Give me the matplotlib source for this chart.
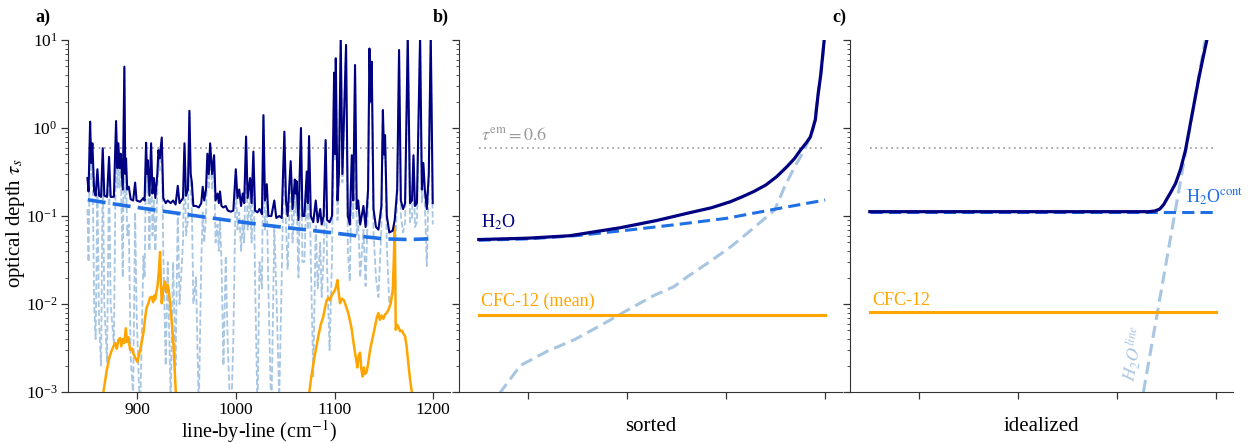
import numpy as np
import matplotlib
matplotlib.use("Agg")
import matplotlib.pyplot as plt

plt.rcParams["font.family"] = ["Liberation Serif", "DejaVu Serif"]
plt.rcParams["mathtext.fontset"] = "stix"

NAVY = "#000080"
CONT_BLUE = "#1f6fe5"
LIGHT_BLUE = "#a8c6e2"
ORANGE = "#ffa500"
GRAY = "#999999"

TAU_EM = 0.6

# ---- panel a: line-by-line spectrum ----
WN_A = [
    849.7, 850.8, 852.4, 853.5, 854.7, 856.5, 858, 859.8, 861.5, 863.5,
    865.2, 866.8, 869.5, 871.6, 873.2, 876.5, 878.7, 880, 881, 882.2,
    883.4, 885.5, 887.1, 888, 888.8, 890, 891.6, 893.5, 896, 898,
    899.5, 903, 906.4, 907.6, 909.1, 910, 910.8, 912.5, 914.2, 915.6,
    917, 918.5, 920.5, 921.6, 922.8, 925, 926.5, 929, 931, 934,
    936.5, 939, 941.2, 943, 946.5, 948, 949.5, 951.5, 953, 954.3,
    955.4, 957, 959.7, 962.5, 965, 966.5, 968, 969.8, 971.2, 972.6,
    974, 976, 978, 979.5, 981.5, 982.8, 984, 985.5, 987.5, 989.8,
    992, 995, 997.5, 1000, 1001.7, 1003.5, 1005.3, 1007, 1008.5, 1010.4,
    1012, 1014.5, 1016, 1017.8, 1019.5, 1022, 1024, 1026.5, 1028, 1029.5,
    1031.4, 1033, 1036, 1039, 1041, 1044, 1046.5, 1049.2, 1050.8, 1052.5,
    1055.6, 1057.5, 1059.8, 1060.7, 1061.5, 1063.5, 1066, 1067.5, 1069.5, 1071.9,
    1073, 1074.2, 1076, 1078.5, 1081, 1083, 1085.5, 1087, 1089, 1091,
    1092.5, 1095, 1097.5, 1099.6, 1100.5, 1101.3, 1103, 1104.5, 1106.3, 1108,
    1111.7, 1113.5, 1115.5, 1117.5, 1119, 1120.8, 1122.5, 1124, 1126, 1129.3,
    1131.5, 1134, 1135.4, 1136.5, 1137.7, 1139.5, 1142, 1144.5, 1147.5, 1149,
    1150.2, 1151.2, 1153, 1155.5, 1158.9, 1161, 1163.5, 1165.4, 1167.2, 1169.5,
    1171.5, 1174.2, 1176.5, 1178.5, 1180, 1181.5, 1183.5, 1186.7, 1188.5, 1190,
    1191.5, 1193.5, 1195.5, 1197.5, 1199.5,
]
TAU_TOTAL_A = [
    0.27, 0.19, 1.18, 0.40, 0.67, 0.19, 0.17, 0.34, 0.17, 0.165,
    0.59, 0.17, 0.165, 0.47, 0.165, 0.165, 1.2, 0.35, 0.67, 0.35,
    0.51, 0.2, 4.98, 0.3, 0.45, 0.2, 0.215, 0.155, 0.15, 0.24,
    0.15, 0.145, 0.16, 0.15, 0.68, 0.3, 0.43, 0.17, 0.67, 0.18,
    0.27, 0.16, 0.3, 0.56, 0.45, 0.78, 0.16, 0.14, 0.15, 0.14,
    0.15, 0.135, 0.22, 0.14, 0.16, 0.67, 0.17, 0.2, 1.57, 0.3,
    0.245, 0.13, 0.13, 0.125, 0.14, 0.215, 0.15, 0.2, 0.51, 0.3,
    0.67, 0.3, 0.49, 0.15, 0.18, 0.14, 0.19, 0.13, 0.125, 0.13,
    0.115, 0.112, 0.115, 0.34, 0.16, 0.2, 0.13, 0.18, 0.14, 0.8,
    0.16, 0.27, 0.14, 0.54, 0.115, 0.11, 0.12, 0.105, 1.4, 0.15,
    0.23, 0.1, 0.1, 0.15, 0.095, 0.1, 0.095, 0.91, 0.15, 0.1,
    0.42, 0.12, 0.26, 0.18, 0.25, 0.09, 1.0, 0.1, 0.1, 0.32,
    0.14, 0.81, 0.1, 0.085, 0.15, 0.085, 0.12, 0.08, 0.1, 0.73,
    0.09, 0.085, 0.1, 4.25, 0.5, 6.2, 0.15, 0.3, 10.5, 0.3,
    8.8, 0.1, 0.08, 0.49, 0.15, 5.2, 0.12, 0.15, 0.08, 0.13,
    0.075, 0.2, 8.0, 2.0, 5.67, 0.12, 0.075, 0.07, 0.13, 1.6,
    0.5, 0.83, 0.1, 0.065, 0.068, 0.09, 0.2, 7.7, 0.15, 0.12,
    0.14, 11, 0.14, 0.15, 0.49, 0.13, 0.14, 11, 0.2, 0.4,
    0.2, 0.12, 0.3, 11, 0.14,
]
TAU_LINE_A = [
    0.12, 0.03, 1.03, 0.25, 0.52, 0.01, 0.004, 0.19, 0.006, 0.002,
    0.45, 0.01, 0.0022, 0.33, 0.01, 0.0035, 1.06, 0.21, 0.53, 0.21,
    0.37, 0.02, 4.84, 0.16, 0.31, 0.06, 0.08, 0.0025, 0.0009, 0.11,
    0.008, 0.0005, 0.035, 0.02, 0.56, 0.18, 0.31, 0.04, 0.55, 0.06,
    0.15, 0.04, 0.18, 0.44, 0.33, 0.67, 0.04, 0.002, 0.03, 0.0008,
    0.03, 0.002, 0.11, 0.01, 0.05, 0.56, 0.06, 0.09, 1.46, 0.19,
    0.14, 0.01, 0.02, 0.0006, 0.03, 0.11, 0.05, 0.1, 0.41, 0.2,
    0.57, 0.2, 0.39, 0.05, 0.08, 0.04, 0.09, 0.03, 0.002, 0.035,
    0.003, 0.0004, 0.004, 0.25, 0.07, 0.11, 0.04, 0.09, 0.05, 0.71,
    0.07, 0.18, 0.05, 0.46, 0.02, 0.0006, 0.03, 0.015, 1.32, 0.07,
    0.15, 0.015, 0.0005, 0.075, 0.015, 0.0008, 0.02, 0.84, 0.08, 0.025,
    0.35, 0.05, 0.19, 0.11, 0.18, 0.02, 0.93, 0.03, 0.03, 0.25,
    0.07, 0.74, 0.03, 0.0015, 0.08, 0.015, 0.05, 0.012, 0.035, 0.67,
    0.025, 0.003, 0.035, 4.2, 0.44, 6.1, 0.09, 0.24, 10.4, 0.24,
    8.7, 0.04, 0.018, 0.43, 0.09, 5.1, 0.06, 0.09, 0.02, 0.07,
    0.016, 0.14, 7.9, 1.9, 5.6, 0.065, 0.02, 0.012, 0.075, 1.55,
    0.45, 0.78, 0.045, 0.01, 0.013, 0.035, 0.15, 7.6, 0.1, 0.065,
    0.085, 11, 0.085, 0.095, 0.44, 0.075, 0.085, 11, 0.14, 0.34,
    0.14, 0.027, 0.24, 11, 0.08,
]
WN_CONT_A = [850, 875, 900, 925, 950, 975, 1000, 1025, 1050, 1075,
             1100, 1125, 1150, 1175, 1195]
TAU_CONT_A = [0.153, 0.138, 0.125, 0.114, 0.104, 0.095, 0.087, 0.080, 0.074,
              0.069, 0.064, 0.059, 0.055, 0.054, 0.055]

WN_CFC_A = [
    865.9, 869, 872, 874, 876, 878, 879.5, 881, 882.8, 884, 885.5, 887,
    888.6, 889.8, 891, 893, 895, 897, 900.3, 902.5, 904.5, 906.4, 908,
    909.5, 911.5, 913, 914.9, 916.2, 917.5, 918.3, 919.5, 920.6, 921.8,
    923.3, 924.2, 925, 926.5, 928.4, 929.8, 931, 931.8, 933, 934, 935.5,
    936.8, 938, 939.2,
    np.nan,
    1074.5, 1076.5, 1078.6, 1081, 1083.6, 1086, 1088.7, 1090.5, 1092, 1094,
    1095.5, 1097.2, 1099, 1100.6, 1102, 1103, 1104.2, 1105.6, 1107.5,
    1109.6, 1112, 1114, 1116, 1117.5, 1119, 1120.8, 1122, 1123.2, 1124.5,
    1125.9, 1127.2, 1128.5, 1129.8, 1130.9, 1132.6, 1134.3, 1136, 1138.5,
    1141, 1142.8, 1144.4, 1146, 1147.8, 1149.5, 1151.2, 1152.9, 1155,
    1157, 1158.2, 1159, 1160, 1161, 1161.6, 1162, 1163.5, 1164.7, 1166.4,
    1168, 1169.8, 1171.5, 1173.2, 1174.8, 1176.5, 1178.3,
]
TAU_CFC_A = [
    0.001, 0.0017, 0.0025, 0.0029, 0.0033, 0.0036, 0.0031, 0.0039, 0.0041,
    0.0033, 0.0040, 0.0036, 0.0053, 0.0037, 0.0042, 0.0030, 0.0031, 0.0026,
    0.0022, 0.0028, 0.0036, 0.0047, 0.0068, 0.0090, 0.0102, 0.0118, 0.0121,
    0.0105, 0.0125, 0.0113, 0.0135, 0.0157, 0.022, 0.039, 0.016, 0.0102,
    0.015, 0.018, 0.0135, 0.0165, 0.0149, 0.0115, 0.0085, 0.0055, 0.0036,
    0.0019, 0.001,
    np.nan,
    0.001, 0.0015, 0.0021, 0.0030, 0.0043, 0.0058, 0.0072, 0.0092, 0.011,
    0.0118, 0.0110, 0.0126, 0.0135, 0.0145, 0.0165, 0.0187, 0.0135, 0.0102,
    0.0115, 0.011, 0.0092, 0.0078, 0.0062, 0.0051, 0.0038, 0.0028, 0.0023,
    0.0019, 0.0026, 0.0028, 0.0018, 0.0015, 0.0019, 0.0016, 0.0017, 0.0022,
    0.0030, 0.0041, 0.0055, 0.0070, 0.0079, 0.0066, 0.0074, 0.0068, 0.0076,
    0.0079, 0.0088, 0.0102, 0.0125, 0.0145, 0.030, 0.076, 0.020, 0.0051,
    0.0058, 0.0055, 0.0049, 0.0050, 0.0046, 0.0043, 0.0032, 0.0021, 0.0014,
    0.001,
]

# ---- panel b: sorted ----
WN_SORT_TOT = [850, 900, 942, 993, 1030, 1060, 1085, 1104, 1116, 1128, 1140,
               1151, 1161, 1169, 1175, 1181, 1185, 1190, 1193, 1195.5, 1197, 1199]
TAU_SORT_TOT = [0.054, 0.056, 0.0597, 0.0736, 0.089, 0.107, 0.124, 0.145,
                0.165, 0.19, 0.225, 0.28, 0.36, 0.45, 0.56, 0.68, 0.79, 1.23,
                2.5, 4.0, 5.9, 10.0]
WN_SORT_LINE = [865, 872, 892, 919, 946, 973, 1000, 1027, 1047, 1061, 1081,
                1105, 1125, 1149, 1159, 1169, 1179, 1187.6, 1193, 1197, 1199]
TAU_SORT_LINE = [0.0006, 0.001, 0.002, 0.0029, 0.0039, 0.0057, 0.0085, 0.0125,
                 0.0157, 0.0205, 0.029, 0.045, 0.069, 0.117, 0.215, 0.36, 0.56,
                 0.95, 2.4, 5.5, 10.0]
WN_SORT_CONT = [850, 900, 950, 1000, 1050, 1100, 1150, 1200]
TAU_SORT_CONT = [0.053, 0.055, 0.060, 0.069, 0.080, 0.094, 0.120, 0.152]
TAU_CFC_MEAN = 0.0075

# ---- panel c: idealized ----
WN_IDEAL_TOT = [850, 1132, 1138, 1143, 1147, 1150, 1154, 1159, 1164, 1169,
                1175, 1182.5, 1187, 1191]
TAU_IDEAL_TOT = [0.112, 0.112, 0.114, 0.12, 0.135, 0.155, 0.185, 0.235, 0.34,
                 0.56, 1.3, 3.7, 6.5, 10.5]
WN_IDEAL_LINE = [1126.5, 1170, 1190]
TAU_IDEAL_LINE = [0.001, 0.61, 11.7]
TAU_IDEAL_CONT = 0.112
TAU_IDEAL_CFC = 0.0081
WN_RANGE = [850, 1200]

W, H = 1252, 443
fig = plt.figure(figsize=(W / 100, H / 100), dpi=100)


def make_ax(left, right):
    ax = fig.add_axes([left / W, 51 / H, (right - left) / W, 352 / H])
    ax.set_yscale("log")
    ax.set_ylim(1e-3, 10)
    ax.set_xlim(830, 1217)
    for s in ("top", "right"):
        ax.spines[s].set_visible(False)
    for s in ("left", "bottom"):
        ax.spines[s].set_color("#333333")
    ax.set_xticks([900, 1000, 1100, 1200])
    ax.tick_params(which="major", direction="out", length=5, width=0.9,
                   colors="#333333", labelsize=12.5, labelcolor="black", pad=2.5)
    ax.tick_params(which="minor", direction="out", length=2.5, width=0.6,
                   colors="#333333")
    return ax


ax_a = make_ax(68, 450)
ax_b = make_ax(459, 842)
ax_c = make_ax(850, 1233)

# panel a
ax_a.plot(WN_A, TAU_LINE_A, color=LIGHT_BLUE, lw=1.3, ls=(0, (3.5, 1.5)), zorder=1)
ax_a.plot(WN_CFC_A, TAU_CFC_A, color=ORANGE, lw=1.8, zorder=2)
ax_a.plot(WN_A, TAU_TOTAL_A, color=NAVY, lw=1.5, zorder=3)
ax_a.plot(WN_CONT_A, TAU_CONT_A, color=CONT_BLUE, lw=2.6, ls=(0, (5, 2)), zorder=4)
ax_a.plot(WN_RANGE, [TAU_EM, TAU_EM], color=GRAY, lw=1.2, ls=(0, (1, 2.2)), zorder=0)
ax_a.set_xlabel(r"line-by-line (cm$^{-1}$)", fontsize=14.5)
ax_a.xaxis.set_label_coords(0.5, -0.074)
ax_a.set_ylabel(r"optical depth $\tau_s$", fontsize=15)
ax_a.yaxis.set_label_coords(-0.107, 0.48)

# panel b
ax_b.plot(WN_SORT_LINE, TAU_SORT_LINE, color=LIGHT_BLUE, lw=2.2, ls=(0, (4, 2)), zorder=1)
ax_b.plot(WN_RANGE, [TAU_CFC_MEAN] * 2, color=ORANGE, lw=2.2, zorder=2)
ax_b.plot(WN_SORT_CONT, TAU_SORT_CONT, color=CONT_BLUE, lw=2.2, ls=(0, (4, 2)), zorder=3)
ax_b.plot(WN_SORT_TOT, TAU_SORT_TOT, color=NAVY, lw=2.3, zorder=4)
ax_b.plot(WN_RANGE, [TAU_EM, TAU_EM], color=GRAY, lw=1.2, ls=(0, (1, 2.2)), zorder=0)
ax_b.text(852, 0.66, r"$\tau^{\rm em} = 0.6$", color=GRAY, fontsize=13,
          ha="left", va="bottom")
ax_b.text(852, 0.066, r"H$_2$O", color=NAVY, fontsize=13, ha="left", va="bottom")
ax_b.text(852, 0.0085, "CFC-12 (mean)", color=ORANGE, fontsize=13,
          ha="left", va="bottom")
ax_b.tick_params(labelbottom=False, labelleft=False)
ax_b.set_xlabel("sorted", fontsize=15)
ax_b.xaxis.set_label_coords(0.5, -0.072)

# panel c
ax_c.plot(WN_IDEAL_LINE, TAU_IDEAL_LINE, color=LIGHT_BLUE, lw=2.2, ls=(0, (4, 2)), zorder=1)
ax_c.plot(WN_RANGE, [TAU_IDEAL_CFC] * 2, color=ORANGE, lw=2.2, zorder=2)
ax_c.plot(WN_RANGE, [TAU_IDEAL_CONT] * 2, color=CONT_BLUE, lw=2.2, ls=(0, (4, 2)), zorder=3)
ax_c.plot(WN_IDEAL_TOT, TAU_IDEAL_TOT, color=NAVY, lw=2.3, zorder=4)
ax_c.plot(WN_RANGE, [TAU_EM, TAU_EM], color=GRAY, lw=1.2, ls=(0, (1, 2.2)), zorder=0)
ax_c.text(1170, 0.128, r"H$_2$O$^{\rm cont}$", color=CONT_BLUE, fontsize=13,
          ha="left", va="bottom")
ax_c.text(852, 0.0088, "CFC-12", color=ORANGE, fontsize=13, ha="left", va="bottom")
ax_c.text(1117, 0.0027, r"$H_2O^{line}$", color=LIGHT_BLUE, fontsize=13,
          ha="center", va="center", rotation=80)
ax_c.tick_params(labelbottom=False, labelleft=False)
ax_c.set_xlabel("idealized", fontsize=15)
ax_c.xaxis.set_label_coords(0.5, -0.072)

for label, xpix in (("a)", 35), ("b)", 433), ("c)", 832)):
    fig.text(xpix / W, 1 - 17 / H, label, fontsize=13, fontweight="bold",
             ha="left", va="center")

fig.savefig("out.png", dpi=100)
